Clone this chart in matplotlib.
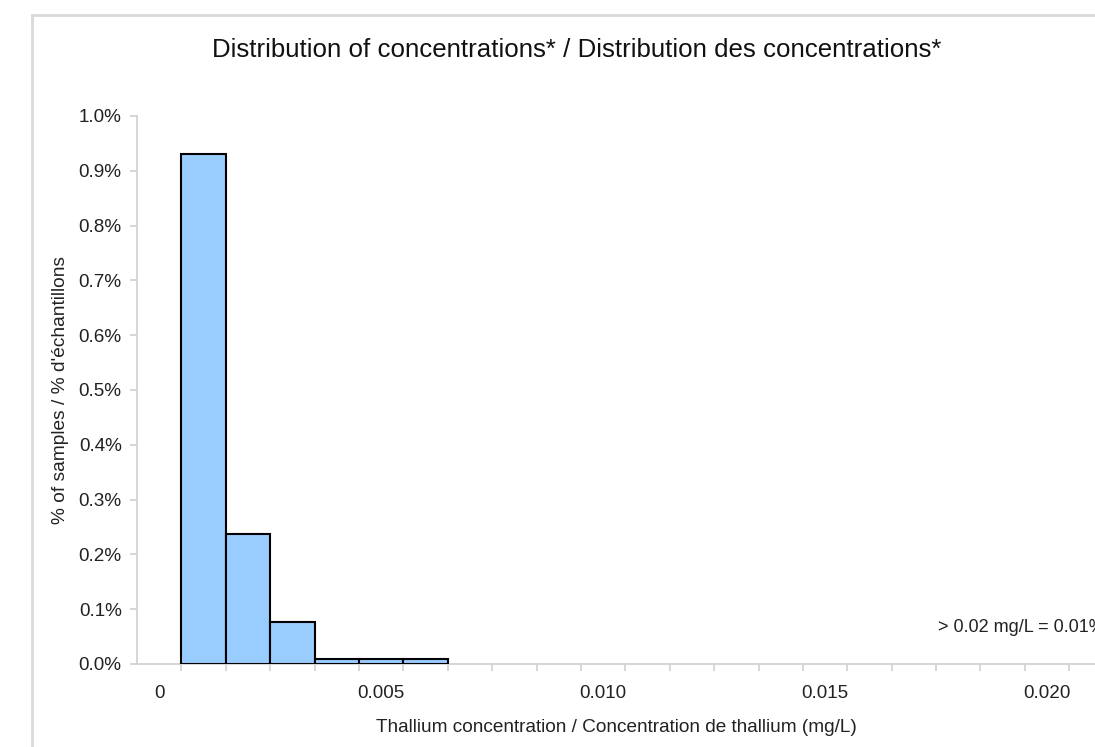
import numpy as np
import matplotlib.pyplot as plt
from matplotlib.lines import Line2D
from matplotlib.ticker import FuncFormatter

plt.rcParams['font.family'] = ['Liberation Sans', 'DejaVu Sans']

# bin centres (mg/L) and share of samples (%)
bin_centers = [0.001, 0.002, 0.003, 0.004, 0.005, 0.006]
pct_samples = [0.93, 0.237, 0.076, 0.01, 0.01, 0.01]
bin_width = 0.001
x_labels = [0, 0.005, 0.010, 0.015, 0.020]
x_label_text = ['0', '0.005', '0.010', '0.015', '0.020']
y_ticks = [0.0, 0.1, 0.2, 0.3, 0.4, 0.5, 0.6, 0.7, 0.8, 0.9, 1.0]

fig = plt.figure(figsize=(10.95, 7.47), dpi=100)
ax = fig.add_axes([137/1095, 1-664/747, 1-137/1095, (664-116)/747])

ax.bar(bin_centers, pct_samples, width=bin_width, color='#99ccff',
       edgecolor='black', linewidth=1.5, zorder=3)

ax.set_xlim(-0.0005, 0.02108)
ax.set_ylim(0, 1.0)

grey = '#cfcfcf'
for s in ['top', 'right']:
    ax.spines[s].set_visible(False)
for s in ['left', 'bottom']:
    ax.spines[s].set_color(grey)
    ax.spines[s].set_linewidth(1.2)

ax.set_yticks(y_ticks)
ax.yaxis.set_major_formatter(FuncFormatter(lambda v, p: '%.1f%%' % v))
ax.tick_params(axis='y', length=5, color=grey, width=1.2, labelsize=13.6,
               pad=6, labelcolor='#222222')

ax.set_xticks(x_labels)
ax.set_xticklabels(x_label_text)
ax.set_xticks(np.arange(0.0005, 0.0211, 0.001), minor=True)
ax.tick_params(axis='x', which='major', length=0, labelsize=13.6, pad=15,
               labelcolor='#222222')
ax.tick_params(axis='x', which='minor', length=5, color=grey, width=1.2)

ax.set_xlabel('Thallium concentration / Concentration de thallium (mg/L)',
              fontsize=13.7, labelpad=12, color='#222222')
ax.set_ylabel("% of samples / % d'échantillons", fontsize=13.8, labelpad=7,
              color='#222222')
fig.text(577/1095, 1-50/747,
         'Distribution of concentrations* / Distribution des concentrations*',
         ha='center', va='center', fontsize=18.6, color='#111111')

ax.text(938/1095, 1-628/747, '> 0.02 mg/L = 0.01%', transform=fig.transFigure,
        ha='left', va='center', fontsize=13, color='#222222')

# chart frame (left and top edges visible)
fig.add_artist(Line2D([32/1095, 32/1095], [0, 1-15/747], color='#d9d9d9', lw=2))
fig.add_artist(Line2D([32/1095, 1], [1-15/747, 1-15/747], color='#d9d9d9', lw=2))

fig.savefig('out.png', dpi=100)
